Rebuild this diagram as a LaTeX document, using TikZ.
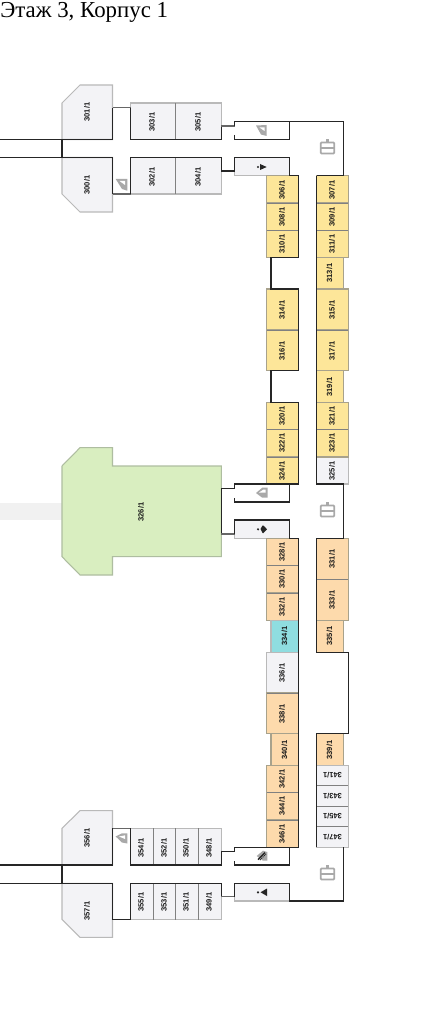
\documentclass[tikz,border=0pt]{standalone}
\usepackage{fontspec}
\setmainfont{Liberation Serif}
\setsansfont{Liberation Sans}
\usepackage{tikz}
\definecolor{shopyellow}{HTML}{FDE699}
\definecolor{shoporange}{HTML}{FDDAAC}
\definecolor{shopcyan}{HTML}{8FDDE0}
\definecolor{shopgray}{HTML}{F3F3F6}
\definecolor{shopgreen}{HTML}{D9EEC0}
\definecolor{edgegray}{HTML}{B9B9B9}
\definecolor{edgegreen}{HTML}{AEBDA0}
\definecolor{edgewarm}{HTML}{A8A28C}
\definecolor{passage}{HTML}{F1F1F1}
\definecolor{icongray}{HTML}{A9A9A9}
\begin{document}
\begin{tikzpicture}[
    x=0.02cm, y=-0.02cm,
    grayroom/.style={draw=edgegray, fill=shopgray, line width=0.6pt},
    yellowroom/.style={draw=edgewarm, fill=shopyellow, line width=0.6pt},
    orangeroom/.style={draw=edgewarm, fill=shoporange, line width=0.6pt},
    cyanroom/.style={draw=edgegray, fill=shopcyan, line width=0.6pt},
    greenroom/.style={draw=edgegreen, fill=shopgreen, line width=0.6pt},
    wall/.style={draw=black!85, line width=0.6pt},
    softwall/.style={draw=black!60, line width=0.7pt},
    divider/.style={draw=black!50, line width=0.5pt},
    roomlabel/.style={font=\sffamily\bfseries\fontsize{4.3}{5}\selectfont, rotate=90, inner sep=0pt, text=black!90},
    flippedlabel/.style={font=\sffamily\bfseries\fontsize{4.3}{5}\selectfont, rotate=180, inner sep=0pt, text=black!90},
    iconfill/.style={fill=icongray, draw=none},
    markdark/.style={fill=black!85, draw=none},
    luggage/.pic={
        \draw[icongray, line width=1pt, rounded corners=0.5pt] (0.7,3.5) rectangle (14.3,14.5);
        \draw[icongray, line width=1pt] (0.7,9) -- (14.3,9);
        \fill[icongray] (6,0.3) rectangle (9,3.5);
    }
]
    \useasboundingbox (0,0) rectangle (430,1030);
    \fill[white] (0,0) rectangle (430,1030);

    \node[anchor=base west, inner sep=0pt, font=\fontsize{13}{15}\selectfont] (title) at (0,18) {Этаж 3, Корпус 1};

    \fill[passage] (0,502.7) rectangle (62,520);

    \draw[grayroom] (62,103) -- (80,85) -- (112.5,85) -- (112.5,139.5) -- (62,139.5) -- cycle;
    \draw[grayroom] (62,157.5) -- (112.5,157.5) -- (112.5,212) -- (80,212) -- (62,194) -- cycle;
    \draw[grayroom] (62,828.3) -- (80,810.7) -- (112.5,810.7) -- (112.5,865) -- (62,865) -- cycle;
    \draw[grayroom] (62,883.3) -- (112.5,883.3) -- (112.5,937.3) -- (80,937.3) -- (62,919.3) -- cycle;
    \draw[greenroom] (62,466) -- (80,447.7) -- (112.5,447.7) -- (112.5,466) -- (221.3,466) -- (221.3,556.7)
        -- (112.5,556.7) -- (112.5,575) -- (80,575) -- (62,556.7) -- cycle;

    \foreach \xa/\xb/\ya/\yb in {130.5/175.7/103/139.5, 175.7/221.3/103/139.5,
        130.5/175.7/157.5/194, 175.7/221.3/157.5/194,
        130.3/153.3/828.3/865, 153.3/175.7/828.3/865, 175.7/198.3/828.3/865, 198.3/221.3/828.3/865,
        130.3/153.3/883.3/919.7, 153.3/175.7/883.3/919.7, 175.7/198.3/883.3/919.7, 198.3/221.3/883.3/919.7,
        266.7/298.5/652.3/693, 316.7/348.3/457/484}
        \draw[grayroom] (\xa,\ya) rectangle (\xb,\yb);

    \foreach \ya/\yb in {157.5/175.5, 520/538.3, 883.3/901}
        \draw[grayroom] (234.5,\ya) rectangle (289.5,\yb);

    \foreach \xa/\xb/\ya/\yb in {266.7/298.5/175.7/203, 266.7/298.5/203/230.3, 266.7/298.5/230.3/257.7,
        266.7/298.5/289/330, 266.7/298.5/330/370.7,
        266.7/298.5/402.3/429.7, 266.7/298.5/429.7/457, 266.7/298.5/457/484,
        316.7/348.3/175.7/203, 316.7/348.3/203/230.3, 316.7/348.3/230.3/257.7, 316.7/343.7/257.7/289,
        316.7/348.3/289/330, 316.7/348.3/330/370.7, 316.7/343.7/370.7/402.3,
        316.7/348.3/402.3/429.7, 316.7/348.3/429.7/457}
        \draw[yellowroom] (\xa,\ya) rectangle (\xb,\yb);

    \foreach \xa/\xb/\ya/\yb in {266.7/298.5/538.3/565.3, 266.7/298.5/565.3/593, 266.7/298.5/593/620.3,
        266.7/298.5/693/733.7, 271/298.5/733.7/765.3,
        266.7/298.5/765.3/792.3, 266.7/298.5/792.3/820, 266.7/298.5/820/847.3,
        316.7/348.3/538.3/579.3, 316.7/348.3/579.3/620.3, 316.7/343.7/620.3/652.3, 316.7/343.7/733.7/765.3}
        \draw[orangeroom] (\xa,\ya) rectangle (\xb,\yb);

    \draw[cyanroom] (271,620.3) rectangle (298.5,652.3);

    \foreach \ya/\yb in {765.3/785.7, 785.7/806.3, 806.3/826.7, 826.7/847.3}
        \draw[grayroom] (316.7,\ya) rectangle (348.3,\yb);

    \foreach \ya in {203, 230.3, 330, 429.7, 457, 565.3, 593, 693, 792.3, 820}
        \draw[divider] (266.7,\ya) -- (298.5,\ya);
    \foreach \ya in {203, 230.3, 330, 429.7, 579.3, 785.7, 806.3, 826.7}
        \draw[divider] (316.7,\ya) -- (348.3,\ya);
    \foreach \xc/\ya/\yb in {175.7/103/139.5, 175.7/157.5/194, 153.3/828.3/865, 175.7/828.3/865, 198.3/828.3/865,
        153.3/883.3/919.7, 175.7/883.3/919.7, 198.3/883.3/919.7}
        \draw[divider] (\xc,\ya) -- (\xc,\yb);

    \draw[wall] (0,139.5) -- (112.5,139.5) -- (112.5,107.7);
    \draw[softwall] (112.5,107.7) -- (130.5,107.7);
    \draw[wall] (130.5,107.7) -- (130.5,139.5) -- (221.3,139.5) -- (221.3,126);
    \draw[softwall] (221.3,126) -- (234.5,126);
    \draw[wall] (234.5,126) -- (234.5,121.7) -- (343.7,121.7) -- (343.7,175.7);
    \draw[wall] (234.5,135) -- (234.5,139.5) -- (289.5,139.5) -- (289.5,121.7);
    \draw[wall] (62,139.5) -- (62,157.5);
    \draw[wall] (0,157.5) -- (112.5,157.5) -- (112.5,194);
    \draw[softwall] (112.5,194) -- (130.5,194);
    \draw[wall] (130.5,194) -- (130.5,157.5) -- (221.3,157.5) -- (221.3,171) -- (234.5,171) -- (234.5,157.5)
        -- (289.5,157.5) -- (289.5,175.7) -- (298.5,175.7) -- (298.5,257.7) -- (271,257.7) -- (271,289)
        -- (298.5,289) -- (298.5,370.7) -- (271,370.7) -- (271,402.3) -- (298.5,402.3) -- (298.5,484) -- (234.5,484)
        -- (234.5,488.7) -- (221.3,488.7) -- (221.3,534);
    \draw[softwall] (221.3,534) -- (234.5,534);
    \draw[wall] (234.5,534) -- (234.5,520) -- (289.5,520) -- (289.5,538.3) -- (298.5,538.3) -- (298.5,847.3)
        -- (234.5,847.3) -- (234.5,851.3) -- (221.3,851.3) -- (221.3,865) -- (130.3,865) -- (130.3,828.3);
    \draw[softwall] (130.3,828.3) -- (112.5,828.3);
    \draw[wall] (112.5,828.3) -- (112.5,865) -- (0,865);
    \draw[wall] (62,865) -- (62,883.3);
    \draw[wall] (0,883.3) -- (112.5,883.3) -- (112.5,919.3) -- (130.3,919.3) -- (130.3,883.3) -- (221.3,883.3) -- (221.3,896.7);
    \draw[softwall] (221.3,896.7) -- (234.5,896.7);
    \draw[wall] (234.5,896.7) -- (234.5,883.3) -- (289.5,883.3) -- (289.5,901) -- (343.7,901) -- (343.7,847.3);
    \draw[wall] (234.5,498) -- (234.5,502) -- (289.5,502) -- (289.5,484);
    \draw[wall] (234.5,861) -- (234.5,865) -- (289.5,865) -- (289.5,847.3);
    \draw[wall] (316.7,175.7) -- (343.7,175.7);
    \draw[wall] (316.7,175.7) -- (316.7,484) -- (343.7,484) -- (343.7,538.3) -- (316.7,538.3) -- (316.7,652.3)
        -- (348.3,652.3) -- (348.3,733.7) -- (316.7,733.7) -- (316.7,847.3);

    \foreach \n/\xc/\yc in {301/87/112, 300/87/185, 356/87/838, 357/87/911,
        303/152/122, 305/198/122, 302/152/177, 304/198/177,
        354/141/848, 352/164/848, 350/186/848, 348/209/848,
        355/141/902, 353/164/902, 351/186/902, 349/209/902,
        326/141/512,
        306/282/190, 308/282/217, 310/282/244, 314/282/310, 316/282/351,
        320/282/416, 322/282/443, 324/282/471,
        328/282/552, 330/282/579, 332/282/607, 334/284.5/636, 336/282/673, 338/282/714, 340/284.5/750,
        342/282/779, 344/282/806, 346/282/834,
        307/332/190, 309/332/217, 311/332/244, 313/329.5/273, 315/332/310, 317/332/351, 319/329.5/387,
        321/332/416, 323/332/443, 325/332/471,
        331/332/559, 333/332/600, 335/329.5/636, 339/329.5/750}
        \node[roomlabel] (room\n) at (\xc,\yc) {\n/1};

    \foreach \n/\yc in {341/775.5, 343/796, 345/816.5, 347/837}
        \node[flippedlabel] (room\n) at (332.5,\yc) {\n/1};

    \fill[iconfill] (256,125.5) -- (266.7,125) -- (266.7,136) -- (261,134.5) -- cycle;
    \fill[white] (259.5,127.5) -- (264.5,127.5) -- (264.5,131) -- cycle;
    \fill[iconfill] (256,493) -- (262.5,487.5) -- (267.5,487.5) -- (267.5,497.7) -- (262,497.5) -- cycle;
    \fill[white] (259,492.5) -- (263.5,489.5) -- (265.5,489.5) -- (265.5,492.5) -- cycle;
    \fill[iconfill] (115.7,179) -- (127.3,179) -- (127.3,190.7) -- (122,189) -- cycle;
    \fill[white] (119.5,181) -- (125,181) -- (125,185) -- cycle;
    \fill[iconfill] (115.7,836.5) -- (122,833.3) -- (127.3,833.3) -- (127.3,843.5) -- (122,842.5) -- cycle;
    \fill[white] (119,836.5) -- (125,835.3) -- (125,839) -- cycle;
    \fill[iconfill] (256.7,856) -- (263,850.7) -- (267.3,852) -- (267.3,860.7) -- (263,860.7) -- cycle;
    \draw[black!85, line width=0.8pt] (258,859.5) -- (265,852.5);
    \draw[black!85, line width=0.5pt, dash pattern=on 0.6pt off 0.5pt] (260,860) -- (266,854);

    \fill[markdark] (258,167) circle (1.2);
    \fill[markdark] (260,164) -- (266.7,167) -- (260,170) -- cycle;
    \fill[markdark] (258,529.3) circle (1.2);
    \fill[markdark] (260.5,529) -- (262.5,525.5) -- (263.5,525.5) -- (267,529.3) -- (263.5,533) -- (262.5,533) -- cycle;
    \fill[markdark] (258,892.3) circle (1.2);
    \fill[markdark] (267,888.5) -- (267,896) -- (260.5,892.3) -- cycle;

    \pic at (320,139) {luggage};
    \pic at (320,502) {luggage};
    \pic at (320,865) {luggage};
\end{tikzpicture}
\end{document}
